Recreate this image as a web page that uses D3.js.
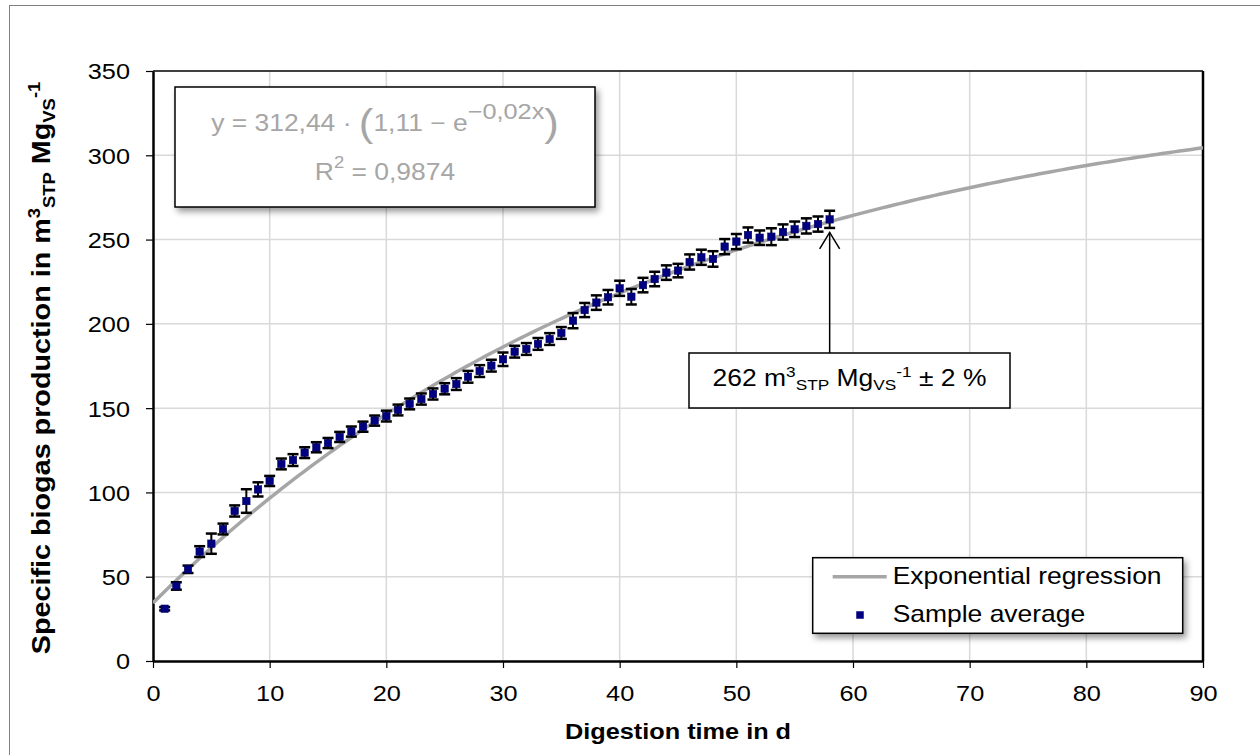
<!DOCTYPE html>
<html>
<head>
<meta charset="utf-8">
<script src="https://cdn.jsdelivr.net/npm/d3@7"></script>
<style>
  body { margin: 0; background: #fff; }
  svg { display: block; font-family: Arial, "Liberation Sans", sans-serif; }
</style>
</head>
<body>
<svg id="chart" width="1260" height="755"></svg>
<script>
// Cumulative specific biogas production per digestion day (sample average ± deviation)
const days = [1, 2, 3, 4, 5, 6, 7, 8, 9, 10,
  11, 12, 13, 14, 15, 16, 17, 18, 19, 20,
  21, 22, 23, 24, 25, 26, 27, 28, 29, 30,
  31, 32, 33, 34, 35, 36, 37, 38, 39, 40,
  41, 42, 43, 44, 45, 46, 47, 48, 49, 50,
  51, 52, 53, 54, 55, 56, 57, 58];
const biogas = [31.0, 44.5, 54.4, 64.9, 69.6, 78.3, 89.0, 94.9, 101.8, 106.8,
  116.9, 119.2, 123.6, 126.8, 129.3, 132.9, 136.1, 139.0, 142.6, 145.3,
  148.9, 152.5, 155.4, 158.4, 161.5, 164.3, 168.6, 172.0, 175.2, 179.0,
  183.5, 185.1, 188.1, 191.0, 194.6, 201.9, 208.2, 212.6, 215.8, 221.1,
  216.1, 223.0, 226.6, 230.4, 231.6, 236.7, 239.5, 238.5, 245.8, 248.8,
  252.7, 251.1, 251.7, 254.5, 256.1, 258.1, 259.2, 262.0];
const deviation = [1.0, 2.2, 2.2, 3.2, 6.0, 3.2, 3.3, 7.0, 4.2, 3.0,
  3.2, 3.5, 3.2, 3.0, 3.0, 3.0, 3.0, 3.0, 3.0, 3.2,
  3.2, 3.2, 3.3, 3.3, 3.3, 3.5, 3.5, 3.5, 3.5, 4.0,
  3.5, 3.5, 3.5, 3.5, 3.5, 4.5, 4.2, 4.3, 4.3, 4.5,
  4.6, 4.3, 4.3, 4.3, 4.0, 4.5, 4.5, 4.6, 4.5, 4.5,
  4.5, 4.3, 5.0, 4.5, 4.6, 4.5, 4.5, 5.1];

const xTicks = [0, 10, 20, 30, 40, 50, 60, 70, 80, 90];
const yTicks = [0, 50, 100, 150, 200, 250, 300, 350];

// Exponential regression y = A · (B − e^(−K·x))
const fitA = 312.44, fitB = 1.11, fitK = 0.0222, fitR2 = 0.9874;
const legendLabels = ["Exponential regression", "Sample average"];

const svg = d3.select("#chart");
const plot = { left: 153, right: 1203, top: 71, bottom: 661 };
const SX = 1.15;              // widening applied along the text direction
const curveColor = "#a6a6a6";
const markColor = "#000080";

const x = d3.scaleLinear().domain([0, 90]).range([plot.left, plot.right]);
const y = d3.scaleLinear().domain([0, 350]).range([plot.bottom, plot.top]);
const comma = v => String(v).replace(".", ",");

const defs = svg.append("defs");
const shadow = defs.append("filter").attr("id", "shadow")
  .attr("x", "-10%").attr("y", "-20%").attr("width", "130%").attr("height", "160%");
shadow.append("feDropShadow").attr("dx", 3).attr("dy", 4).attr("stdDeviation", 3)
  .attr("flood-color", "#000").attr("flood-opacity", 0.4);
defs.append("clipPath").attr("id", "plotClip").append("rect")
  .attr("x", plot.left).attr("y", plot.top)
  .attr("width", plot.right - plot.left).attr("height", plot.bottom - plot.top);

svg.append("rect").attr("width", 1260).attr("height", 755).attr("fill", "#fff");
// outer chart frame
svg.append("rect").attr("x", 9.5).attr("y", 5.5).attr("width", 1300).attr("height", 800)
  .attr("fill", "none").attr("stroke", "#808080").attr("stroke-width", 1);

// gridlines
const grid = svg.append("g").attr("stroke", "#d9d9d9").attr("stroke-width", 1.5);
grid.selectAll("line.v").data(xTicks.filter(t => t > 0 && t < 90)).join("line")
  .attr("x1", d => x(d)).attr("x2", d => x(d)).attr("y1", plot.top).attr("y2", plot.bottom);
grid.selectAll("line.h").data(yTicks.filter(t => t > 0 && t < 350)).join("line")
  .attr("y1", d => y(d)).attr("y2", d => y(d)).attr("x1", plot.left).attr("x2", plot.right);

// plot frame (top and right)
svg.append("line").attr("x1", plot.left).attr("x2", plot.right).attr("y1", plot.top).attr("y2", plot.top)
  .attr("stroke", "#000").attr("stroke-width", 1.5);
svg.append("line").attr("x1", plot.right).attr("x2", plot.right).attr("y1", plot.top).attr("y2", plot.bottom)
  .attr("stroke", "#000").attr("stroke-width", 2.5);

// axes
const xAxis = svg.append("g").attr("transform", `translate(0,${plot.bottom})`)
  .call(d3.axisBottom(x).tickValues(xTicks).tickSize(7).tickSizeOuter(0));
const yAxis = svg.append("g").attr("transform", `translate(${plot.left},0)`)
  .call(d3.axisLeft(y).tickValues(yTicks).tickSize(7).tickSizeOuter(0));
[xAxis, yAxis].forEach(a => {
  a.select(".domain").attr("stroke", "#000").attr("stroke-width", 2.5);
  a.selectAll(".tick line").attr("stroke", "#000").attr("stroke-width", 1.2);
  a.selectAll(".tick text").attr("font-size", 22).attr("font-family", "Arial, 'Liberation Sans', sans-serif")
    .attr("fill", "#000");
});
xAxis.selectAll(".tick text").attr("y", 0).attr("dy", null)
  .attr("transform", `translate(0,40) scale(${SX},1)`);
yAxis.selectAll(".tick text").attr("x", 0).attr("dy", "0.36em")
  .attr("transform", `translate(-23,0) scale(${SX},1)`);

// regression curve
const fit = v => fitA * (fitB - Math.exp(-fitK * v));
const curveXs = d3.range(0, 90.25, 0.5);
svg.append("path").datum(curveXs)
  .attr("clip-path", "url(#plotClip)")
  .attr("fill", "none").attr("stroke", curveColor).attr("stroke-width", 3.5)
  .attr("d", d3.line().x(d => x(d)).y(d => y(fit(d))));

// sample averages with error bars
const samples = days.map((d, i) => ({ day: d, v: biogas[i], e: deviation[i] }));
const bars = svg.append("g").attr("stroke", "#000");
bars.selectAll("line.stem").data(samples).join("line")
  .attr("stroke-width", 2)
  .attr("x1", d => x(d.day)).attr("x2", d => x(d.day))
  .attr("y1", d => y(d.v - d.e)).attr("y2", d => y(d.v + d.e));
bars.selectAll("line.capTop").data(samples).join("line")
  .attr("stroke-width", 2.5)
  .attr("x1", d => x(d.day) - 5.5).attr("x2", d => x(d.day) + 5.5)
  .attr("y1", d => y(d.v + d.e)).attr("y2", d => y(d.v + d.e));
bars.selectAll("line.capBot").data(samples).join("line")
  .attr("stroke-width", 2.5)
  .attr("x1", d => x(d.day) - 5.5).attr("x2", d => x(d.day) + 5.5)
  .attr("y1", d => y(d.v - d.e)).attr("y2", d => y(d.v - d.e));
const ms = 7.5;
svg.append("g").selectAll("rect").data(samples).join("rect")
  .attr("x", d => x(d.day) - ms / 2).attr("y", d => y(d.v) - ms / 2)
  .attr("width", ms).attr("height", ms)
  .attr("fill", markColor).attr("stroke", "#00005a").attr("stroke-width", 0.5);

// helper for text widened along its reading direction
function label(parent, tx, ty, opts = {}) {
  const g = parent.append("g")
    .attr("transform", `translate(${tx},${ty})` + (opts.rotate ? ` rotate(${opts.rotate})` : "") + ` scale(${SX},1)`);
  return g.append("text")
    .attr("text-anchor", opts.anchor || "start")
    .attr("font-size", opts.size || 22)
    .attr("font-weight", opts.weight || "normal")
    .attr("fill", opts.fill || "#000");
}

// axis titles
label(svg, 678, 739, { anchor: "middle", weight: "bold" }).text("Digestion time in d");
const yTitle = label(svg, 50, 368, { anchor: "middle", weight: "bold", rotate: -90, size: 25 });
yTitle.append("tspan").text("Specific biogas production in m");
yTitle.append("tspan").attr("font-size", 16).attr("dy", -10).text("3");
yTitle.append("tspan").attr("font-size", 16).attr("dy", 15).text("STP");
yTitle.append("tspan").attr("dy", -5).text(" Mg");
yTitle.append("tspan").attr("font-size", 16).attr("dy", 5).text("VS");
yTitle.append("tspan").attr("font-size", 16).attr("dy", -15).text("-1");

// regression equation box
svg.append("rect").attr("x", 175).attr("y", 87).attr("width", 420).attr("height", 120)
  .attr("fill", "#fff").attr("stroke", "#000").attr("stroke-width", 1.5).attr("filter", "url(#shadow)");
const eq = label(svg, 385, 130.7, { anchor: "middle", size: 23, fill: curveColor });
eq.append("tspan").text(`y = ${comma(fitA.toFixed(2))} · `);
eq.append("tspan").attr("font-size", 38).attr("font-weight", 300).attr("dy", 5).text("(");
eq.append("tspan").attr("dy", -5).text(`${comma(fitB.toFixed(2))} − e`);
eq.append("tspan").attr("font-size", 22).attr("dy", -12).text("−0,02x");
eq.append("tspan").attr("font-size", 38).attr("dy", 17).text(")");
const r2 = label(svg, 385, 180, { anchor: "middle", size: 23, fill: curveColor });
r2.append("tspan").text("R");
r2.append("tspan").attr("font-size", 16).attr("dy", -12).text("2");
r2.append("tspan").attr("dy", 12).text(` = ${comma(fitR2.toFixed(4))}`);

// final value annotation
const last = samples[samples.length - 1];
const ax = x(last.day), tipY = y(last.v) + 13, boxTop = 353;
svg.append("line").attr("x1", ax).attr("x2", ax).attr("y1", boxTop).attr("y2", tipY)
  .attr("stroke", "#000").attr("stroke-width", 1.5);
svg.append("path").attr("d", `M${ax - 10},${tipY + 16.6} L${ax},${tipY} L${ax + 10},${tipY + 16.6}`)
  .attr("fill", "none").attr("stroke", "#000").attr("stroke-width", 1.5);
svg.append("rect").attr("x", 689).attr("y", boxTop).attr("width", 321).attr("height", 55)
  .attr("fill", "#fff").attr("stroke", "#000").attr("stroke-width", 1.5);
const ann = label(svg, 849.5, 386, { anchor: "middle", size: 23 });
ann.append("tspan").text(`${d3.format(".0f")(last.v)} m`);
ann.append("tspan").attr("font-size", 15).attr("dy", -9).text("3");
ann.append("tspan").attr("font-size", 15).attr("dy", 13).text("STP");
ann.append("tspan").attr("dy", -4).text(" Mg");
ann.append("tspan").attr("font-size", 15).attr("dy", 4).text("VS");
ann.append("tspan").attr("font-size", 15).attr("dy", -13).text("-1");
ann.append("tspan").attr("dy", 9).text(` ± ${d3.format(".0f")(last.e / last.v * 100)} %`);

// legend
svg.append("rect").attr("x", 812.7).attr("y", 557.7).attr("width", 370).attr("height", 75.6)
  .attr("fill", "#fff").attr("stroke", "#000").attr("stroke-width", 1.5).attr("filter", "url(#shadow)");
svg.append("line").attr("x1", 832.7).attr("x2", 886.7).attr("y1", 576.7).attr("y2", 576.7)
  .attr("stroke", curveColor).attr("stroke-width", 3.5);
label(svg, 892.7, 584, { size: 23 }).text(legendLabels[0]);
svg.append("rect").attr("x", 860 - ms / 2).attr("y", 615 - ms / 2).attr("width", ms).attr("height", ms)
  .attr("fill", markColor);
label(svg, 892.7, 621.7, { size: 23 }).text(legendLabels[1]);
</script>
</body>
</html>
